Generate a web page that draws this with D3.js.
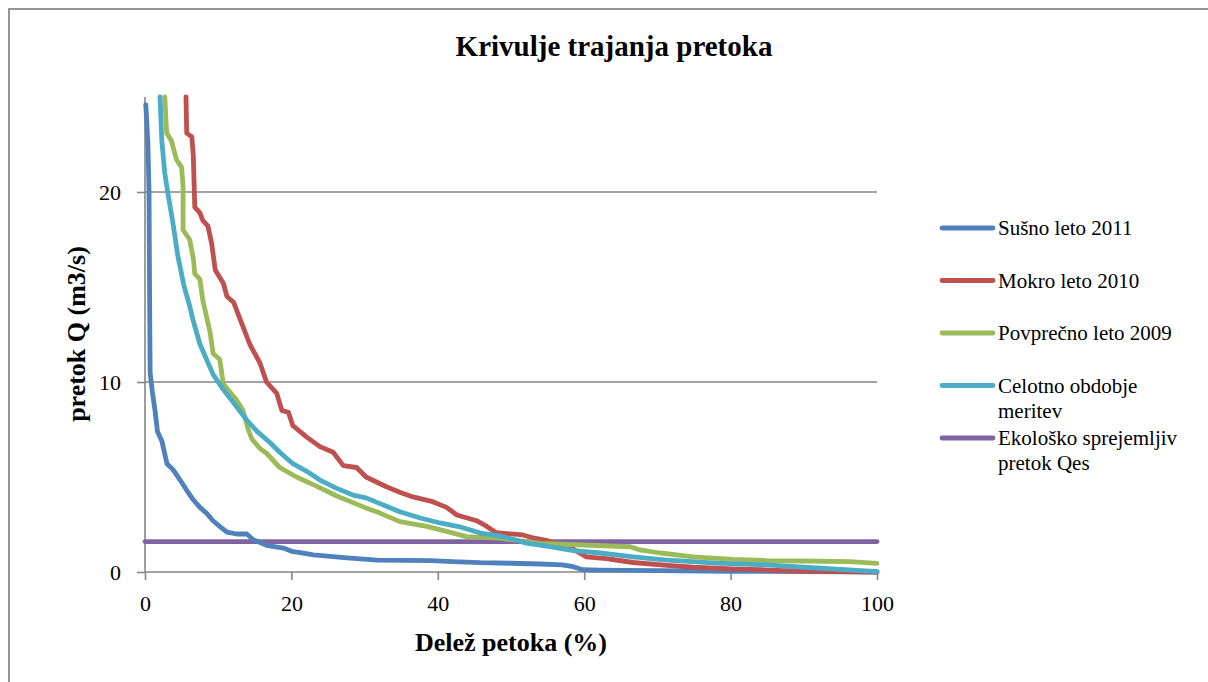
<!DOCTYPE html>
<html>
<head>
<meta charset="utf-8">
<script src="https://cdn.jsdelivr.net/npm/d3@7"></script>
<style>
html,body{margin:0;padding:0;background:#fff;}
svg{display:block;}
svg text, svg tspan{font-family:"Liberation Serif","Times New Roman",serif !important;fill:#000;}
</style>
</head>
<body>
<svg id="chart" width="1208" height="682"></svg>
<script>
// ---- data ----
const chartTitle = "Krivulje trajanja pretoka";
const xTitle = "Delež petoka (%)";
const yTitle = "pretok Q (m3/s)";
const seriesNames = ["Sušno leto 2011", "Mokro leto 2010", "Povprečno leto 2009", "Celotno obdobje meritev", "Ekološko sprejemljiv pretok Qes"];
const xTicks = [0, 20, 40, 60, 80, 100];
const yTicks = [0, 10, 20];

const dryX = [0.1, 0.2, 0.4, 0.55, 0.62, 0.7, 1.0, 1.4, 1.7, 2.3, 3.0, 3.8, 4.8, 5.7, 6.6, 7.5, 8.4, 9.3, 10.2, 11.2, 12.5, 13.9, 14.8, 16.6, 18.9, 20.2, 21.2, 23, 27.6, 31.7, 39, 42, 45.8, 50, 54, 57, 58.5, 59.8, 62, 70, 80, 90, 100];
const dryY = [24.6, 24.0, 22.5, 20, 15, 10.5, 9.5, 8.4, 7.4, 6.9, 5.7, 5.4, 4.84, 4.3, 3.8, 3.4, 3.1, 2.7, 2.4, 2.1, 2.0, 2.0, 1.7, 1.4, 1.26, 1.07, 1.02, 0.9, 0.74, 0.62, 0.6, 0.55, 0.49, 0.46, 0.42, 0.38, 0.28, 0.12, 0.1, 0.07, 0.04, 0.02, 0.0];

const wetX = [5.6, 5.7, 6.4, 6.6, 6.8, 7.5, 7.9, 8.6, 9.1, 9.6, 10.7, 11.2, 12.1, 13.2, 14.3, 15.7, 16.6, 18.0, 18.7, 19.6, 20.2, 22.1, 23.9, 25.7, 27.1, 28.9, 30.2, 32.9, 34.8, 36.6, 39.3, 41.2, 42.6, 45.3, 46.7, 48, 51.6, 53, 55, 56.7, 58.5, 60.3, 63, 66.7, 71.3, 74.9, 80.3, 84, 89.5, 95.4, 100];
const wetY = [25, 23.1, 22.9, 21.9, 19.2, 18.9, 18.5, 18.2, 17.3, 15.9, 15.2, 14.5, 14.2, 13.1, 12.0, 11.0, 10.0, 9.4, 8.5, 8.4, 7.7, 7.1, 6.6, 6.3, 5.6, 5.5, 5.0, 4.5, 4.2, 3.95, 3.7, 3.4, 3.0, 2.7, 2.4, 2.07, 1.95, 1.8, 1.65, 1.4, 1.2, 0.8, 0.7, 0.5, 0.35, 0.25, 0.16, 0.12, 0.05, 0.02, 0];

const avgX = [2.7, 2.96, 3.6, 4.3, 5.0, 5.2, 5.2, 6.1, 6.6, 6.8, 7.5, 7.9, 8.9, 9.3, 10.2, 10.7, 12.5, 13.4, 14.1, 14.6, 15.7, 16.6, 18.4, 20.7, 23, 26.2, 30, 32.1, 34.8, 38.5, 42.1, 43.9, 48.5, 54, 59.8, 66.3, 67.6, 70.4, 74.9, 80.3, 84.9, 90, 96.3, 100];
const avgY = [25, 23.1, 22.7, 21.7, 21.3, 20.3, 18.0, 17.5, 16.5, 15.7, 15.4, 14.3, 12.6, 11.5, 11.2, 9.9, 9.05, 8.5, 7.5, 7.0, 6.5, 6.25, 5.5, 5.0, 4.6, 4.0, 3.4, 3.1, 2.65, 2.4, 2.05, 1.86, 1.78, 1.5, 1.42, 1.33, 1.16, 1.0, 0.8, 0.66, 0.6, 0.58, 0.55, 0.45];

const allX = [2.05, 2.3, 2.7, 3.1, 3.8, 4.5, 5.3, 6.1, 6.6, 7.5, 8.4, 9.3, 10.7, 12.1, 13.9, 15.3, 17.1, 18.4, 20.2, 22.1, 23.9, 26.2, 28.4, 30.2, 34.8, 37.6, 40.3, 43, 45.8, 48.5, 52.1, 55.3, 58.5, 62.2, 66.7, 71.3, 78.1, 84.9, 91.7, 100];
const allY = [25, 22.7, 21, 20, 18.4, 16.6, 15.1, 14.0, 13.2, 12.0, 11.2, 10.4, 9.6, 8.9, 8.0, 7.4, 6.8, 6.3, 5.7, 5.3, 4.84, 4.4, 4.05, 3.9, 3.17, 2.84, 2.58, 2.38, 2.05, 1.9, 1.52, 1.33, 1.12, 1.0, 0.8, 0.63, 0.47, 0.37, 0.21, 0.02];

const qesX = [0, 100];
const qesY = [1.6, 1.6];

const colors = ["#4F81BD", "#C0504D", "#9BBB59", "#4BACC6", "#8064A2"];

// ---- layout ----
const FONT = '"Liberation Serif", "Times New Roman", serif';
const svg = d3.select("#chart");
const plot = {left: 145, right: 877, top: 97, bottom: 572};
const x = d3.scaleLinear().domain([0, 100]).range([plot.left, plot.right]);
const y = d3.scaleLinear().domain([0, 25]).range([plot.bottom, plot.top]);

// outer border
svg.append("rect").attr("x", 9).attr("y", 9).attr("width", 1230).attr("height", 700)
  .attr("fill", "none").attr("stroke", "#8c8c8c").attr("stroke-width", 1.8);

// title
svg.append("text").attr("x", 614).attr("y", 56).attr("text-anchor", "middle")
  .style("font-family", FONT)
  .attr("font-size", 29).attr("font-weight", "bold").text(chartTitle);

// gridlines
svg.append("g").selectAll("line").data(yTicks.filter(d => d > 0)).join("line")
  .attr("x1", plot.left).attr("x2", plot.right)
  .attr("y1", d => y(d)).attr("y2", d => y(d))
  .attr("stroke", "#868686").attr("stroke-width", 1.6);

// axes
const gx = svg.append("g").attr("transform", `translate(0,${plot.bottom})`)
  .call(d3.axisBottom(x).tickValues(xTicks).tickSize(8).tickPadding(15).tickFormat(d3.format("d")));
const gy = svg.append("g").attr("transform", `translate(${plot.left},0)`)
  .call(d3.axisLeft(y).tickValues(yTicks).tickSize(8).tickPadding(16).tickFormat(d3.format("d")));
[gx, gy].forEach(g => {
  g.attr("font-family", null).attr("font-size", null);
  g.select(".domain").attr("stroke", "#868686").attr("stroke-width", 1.6);
  g.selectAll(".tick line").attr("stroke", "#868686").attr("stroke-width", 1.6);
  g.selectAll(".tick text").style("font-family", FONT).attr("font-size", 22).attr("fill", "#000");
});
gy.select(".domain").attr("d", `M-0,${plot.bottom}V${plot.top}`);
gx.select(".domain").attr("d", `M${plot.left},0H${plot.right}`);

// axis titles
svg.append("text").attr("x", 511).attr("y", 651).attr("text-anchor", "middle")
  .style("font-family", FONT)
  .attr("font-size", 26).attr("font-weight", "bold").text(xTitle);
svg.append("text").attr("transform", "translate(85,334) rotate(-90)").attr("text-anchor", "middle")
  .style("font-family", FONT)
  .attr("font-size", 26).attr("font-weight", "bold").text(yTitle);

// series
const series = [
  {name: seriesNames[0], xs: dryX, ys: dryY},
  {name: seriesNames[1], xs: wetX, ys: wetY},
  {name: seriesNames[2], xs: avgX, ys: avgY},
  {name: seriesNames[3], xs: allX, ys: allY},
  {name: seriesNames[4], xs: qesX, ys: qesY}
];
const line = d3.line().x(d => x(d[0])).y(d => y(d[1]));
const order = [4, 0, 1, 2, 3];
svg.append("g").selectAll("path").data(order.map(i => series[i])).join("path")
  .attr("d", s => line(s.xs.map((v, i) => [v, s.ys[i]])))
  .attr("fill", "none")
  .attr("stroke", s => colors[series.indexOf(s)])
  .attr("stroke-width", 4.8)
  .attr("stroke-linejoin", "round")
  .attr("stroke-linecap", "round");

// legend
const leg = svg.append("g");
const legTop = 228, legStep = 52.5, lineH = 25;
series.forEach((s, i) => {
  const cy = legTop + i * legStep;
  leg.append("line").attr("x1", 942).attr("x2", 993).attr("y1", cy).attr("y2", cy)
    .attr("stroke", colors[i]).attr("stroke-width", 4.8).attr("stroke-linecap", "round");
  const t = leg.append("text").attr("x", 998).attr("y", cy + 7).attr("font-size", 21)
    .style("font-family", FONT);
  const words = s.name.split(" ");
  let lineWords = [], tspan = t.append("tspan").attr("x", 998).attr("dy", 0);
  words.forEach(w => {
    lineWords.push(w);
    tspan.text(lineWords.join(" "));
    if (tspan.node().getComputedTextLength() > 190 && lineWords.length > 1) {
      lineWords.pop();
      tspan.text(lineWords.join(" "));
      lineWords = [w];
      tspan = t.append("tspan").attr("x", 998).attr("dy", lineH).text(w);
    }
  });
});
</script>
</body>
</html>
